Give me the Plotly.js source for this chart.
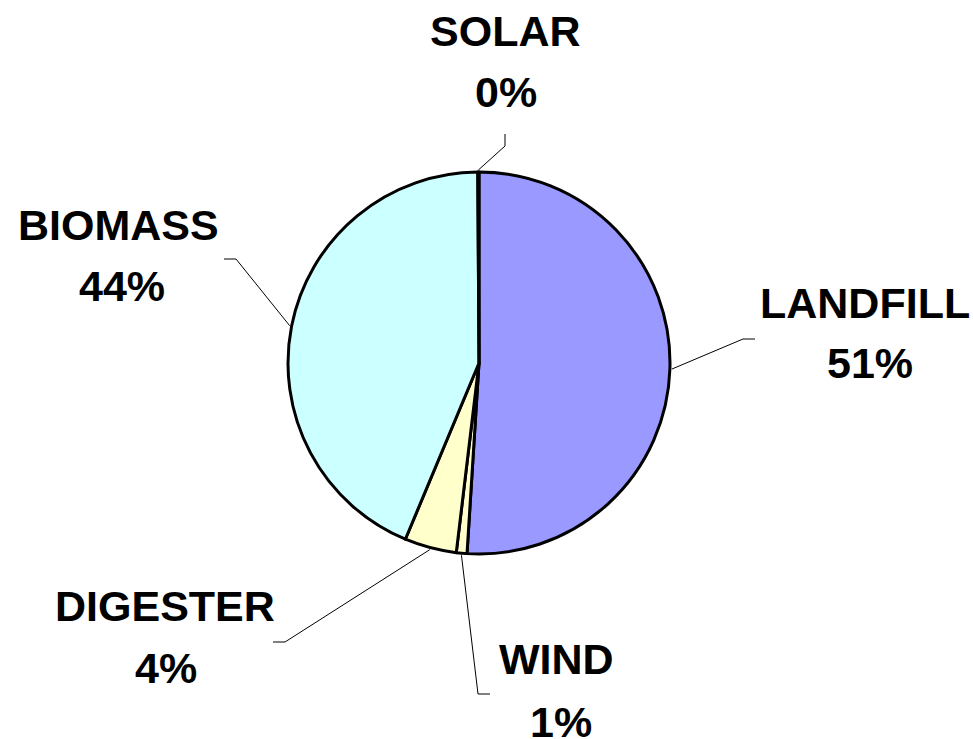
<!DOCTYPE html>
<html>
<head>
<meta charset="utf-8">
<script src="https://cdn.plot.ly/plotly-3.0.1.min.js"></script>
<style>html,body{margin:0;padding:0;background:#fff;}#chart{width:973px;height:739px;}</style>
</head>
<body>
<div id="chart"></div>
<script>
// ---- data ----
const categories = ["LANDFILL", "WIND", "DIGESTER", "BIOMASS", "SOLAR"];
const shares = [51.0, 0.9, 4.4, 43.6, 0.1];
const sliceColors = ["#9999FF", "#FFFFCC", "#FFFFCC", "#CCFFFF", "#FFFFCC"];

// ---- layout (pixels) ----
const W = 973, H = 739;
const CX = 479, CY = 363, R = 191;
// per label: elbow point, end of horizontal tick, name centre, percent centre
const labelLayout = [
  {elbow: [743, 339], end: [755, 339], name: [865, 303], pct: [870, 363]},
  {elbow: [478, 694], end: [490, 694], name: [556, 659], pct: [561, 722]},
  {elbow: [285, 642], end: [273, 642], name: [165, 606], pct: [166, 668]},
  {elbow: [236, 259], end: [224, 259], name: [118, 225], pct: [122, 286]},
  {elbow: [505, 146], end: [505, 134], name: [505, 31], pct: [506, 92]}
];

const total = shares.reduce((a, b) => a + b, 0);
const shapes = [];
const annotations = [];
let cum = 0;
shares.forEach((v, i) => {
  const mid = (cum + v / 2) / total * 2 * Math.PI;
  cum += v;
  const sx = CX + (R + 2) * Math.sin(mid);
  const sy = CY - (R + 2) * Math.cos(mid);
  const L = labelLayout[i];
  shapes.push({
    type: "path", xref: "x", yref: "y",
    path: `M${sx},${sy} L${L.elbow[0]},${L.elbow[1]} L${L.end[0]},${L.end[1]}`,
    line: {color: "#000", width: 1}
  });
  const font = {family: "Liberation Sans, Arial, sans-serif", size: 43, color: "#000"};
  annotations.push({
    xref: "x", yref: "y", x: L.name[0], y: L.name[1], text: "<b>" + categories[i] + "</b>",
    showarrow: false, xanchor: "center", yanchor: "middle", font: font
  });
  annotations.push({
    xref: "x", yref: "y", x: L.pct[0], y: L.pct[1],
    text: "<b>" + Math.round(v / total * 100) + "%</b>",
    showarrow: false, xanchor: "center", yanchor: "middle", font: font
  });
});

const trace = {
  type: "pie",
  labels: categories,
  values: shares,
  sort: false,
  direction: "clockwise",
  rotation: 0,
  textinfo: "none",
  hoverinfo: "skip",
  showlegend: false,
  marker: {colors: sliceColors, line: {color: "#000", width: 3}},
  domain: {
    x: [(CX - R) / W, (CX + R) / W],
    y: [1 - (CY + R) / H, 1 - (CY - R) / H]
  }
};

const layout = {
  width: W, height: H,
  margin: {l: 0, r: 0, t: 0, b: 0},
  paper_bgcolor: "#fff", plot_bgcolor: "rgba(0,0,0,0)",
  xaxis: {range: [0, W], visible: false, fixedrange: true},
  yaxis: {range: [H, 0], visible: false, fixedrange: true},
  shapes: shapes,
  annotations: annotations,
  showlegend: false
};

Plotly.newPlot("chart", [trace], layout, {staticPlot: true, displayModeBar: false});
</script>
</body>
</html>
